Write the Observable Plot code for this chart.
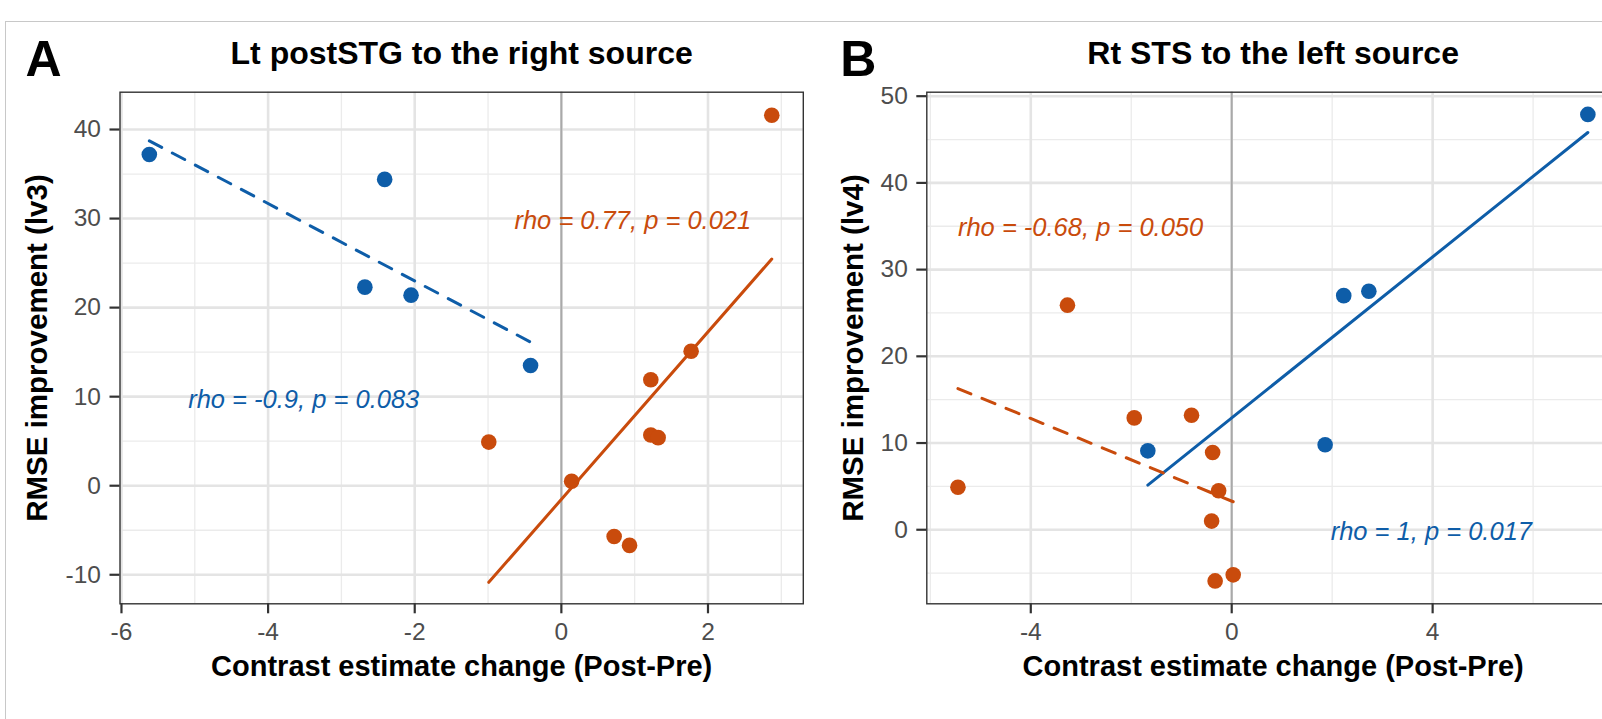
<!DOCTYPE html>
<html><head><meta charset="utf-8">
<script src="https://cdn.jsdelivr.net/npm/d3@7"></script>
<script src="https://cdn.jsdelivr.net/npm/@observablehq/plot@0.6"></script>
<style>
html,body{margin:0;padding:0;background:#fff;overflow:hidden;width:1602px;height:719px}
#wrap{position:relative;width:1602px;height:719px;overflow:hidden;background:#fff}
#pa,#pb{position:absolute;top:0}
#pa{left:0px}
#pb{left:820px}
#border{position:absolute;left:5px;top:21px;width:1700px;height:800px;border:1.5px solid #c8c8c8;pointer-events:none;z-index:5}
</style></head><body>
<div id="wrap"><div id="pa"></div><div id="pb"></div><div id="border"></div></div>
<script>
// ---------- data ----------
const blue = "#0E5DA8", orange = "#C94B0C";

// Panel A: Lt postSTG to the right source
const aTitle = "Lt postSTG to the right source";
const aYLabel = "RMSE improvement (lv3)";
const aBlueX = [-5.62, -2.41, -2.68, -2.05, -0.42];
const aBlueY = [37.2, 34.4, 22.3, 21.4, 13.5];
const aOrangeX = [2.87, 1.77, 1.22, -0.99, 1.22, 1.32, 0.14, 0.72, 0.93];
const aOrangeY = [41.6, 15.1, 11.9, 4.9, 5.7, 5.4, 0.5, -5.7, -6.7];
const aXTicks = [-6, -4, -2, 0, 2];
const aXMinor = [-5, -3, -1, 1, 3];
const aYTicks = [-10, 0, 10, 20, 30, 40];
const aYMinor = [-5, 5, 15, 25, 35];
const aXDomain = [-6.02, 3.30];
const aYDomain = [-13.26, 44.19];
const aLabelText = ["rho = 0.77, p = 0.021", "rho = -0.9, p = 0.083"];
const aLabelX = [-0.64, -5.09];
const aLabelY = [29.8, 9.7];

// Panel B: Rt STS to the left source
const bTitle = "Rt STS to the left source";
const bYLabel = "RMSE improvement (lv4)";
const bBlueX = [7.09, 2.23, 2.73, -1.67, 1.86];
const bBlueY = [47.9, 27.0, 27.5, 9.1, 9.8];
const bOrangeX = [-3.27, -5.45, -1.94, -0.80, -0.38, -0.26, -0.40, -0.33, 0.03];
const bOrangeY = [25.9, 4.9, 12.9, 13.2, 8.9, 4.5, 1.0, -5.9, -5.2];
const bXTicks = [-4, 0, 4];
const bXMinor = [-6, -2, 2, 6];
const bYTicks = [0, 10, 20, 30, 40, 50];
const bYMinor = [-5, 5, 15, 25, 35, 45];
const bXDomain = [-6.07, 7.72];
const bYDomain = [-8.54, 50.46];
const bLabelText = ["rho = -0.68, p = 0.050", "rho = 1, p = 0.017"];
const bLabelX = [-5.45, 1.97];
const bLabelY = [34.8, -0.2];

const xLabel = "Contrast estimate change (Post-Pre)";

// ---------- drawing ----------
const FONT = "'Liberation Sans', Arial, Helvetica, sans-serif";
const rows = (xs, ys) => xs.map((x, i) => ({x, y: ys[i]}));
const hyphenFormat = d => String(d);

function panel(cfg) {
  const blueRows = rows(cfg.blueX, cfg.blueY);
  const orangeRows = rows(cfg.orangeX, cfg.orangeY);
  const labels = cfg.labelText.map((t, i) => ({t, x: cfg.labelX[i], y: cfg.labelY[i], c: cfg.labelColor[i]}));
  return Plot.plot({
    width: 820,
    height: 719,
    marginLeft: cfg.marginLeft,
    marginRight: cfg.marginRight,
    marginTop: 91.7,
    marginBottom: 115.7,
    x: {domain: cfg.xDomain},
    y: {domain: cfg.yDomain},
    style: {fontFamily: FONT, background: "transparent", maxWidth: "none", overflow: "visible"},
    marks: [
      Plot.gridX(cfg.xMinor, {stroke: "#EBEBEB", strokeOpacity: 1, strokeWidth: 1.3}),
      Plot.gridY(cfg.yMinor, {stroke: "#EBEBEB", strokeOpacity: 1, strokeWidth: 1.3}),
      Plot.gridX(cfg.xTicks, {stroke: "#E4E4E4", strokeOpacity: 1, strokeWidth: 2.6}),
      Plot.gridY(cfg.yTicks, {stroke: "#E4E4E4", strokeOpacity: 1, strokeWidth: 2.6}),
      Plot.ruleX([0], {stroke: "#A9A9A9", strokeWidth: 2}),
      Plot.frame({stroke: "#333333", strokeWidth: 1.4}),
      Plot.axisX(cfg.xTicks, {tickSize: 10, tickPadding: 8.5, stroke: "#333333", strokeWidth: 2.2, fill: "#4D4D4D", fontSize: 24.5, fontFamily: FONT, tickFormat: hyphenFormat, label: null}),
      Plot.axisY(cfg.yTicks, {tickSize: 10, tickPadding: 9, stroke: "#333333", strokeWidth: 2.2, fill: "#4D4D4D", fontSize: 24.5, fontFamily: FONT, tickFormat: hyphenFormat, label: null}),
      Plot.dot(blueRows, {x: "x", y: "y", r: 7.8, fill: blue, stroke: null}),
      Plot.dot(orangeRows, {x: "x", y: "y", r: 7.8, fill: orange, stroke: null}),
      Plot.linearRegressionY(blueRows, {x: "x", y: "y", stroke: blue, strokeWidth: 3, ci: 0, strokeDasharray: cfg.blueDash}),
      Plot.linearRegressionY(orangeRows, {x: "x", y: "y", stroke: orange, strokeWidth: 3, ci: 0, strokeDasharray: cfg.orangeDash}),
      Plot.text(labels, {x: "x", y: "y", text: "t", fill: "c", textAnchor: "start", lineAnchor: "middle", fontStyle: "italic", fontSize: 25.5, fontFamily: FONT}),
      Plot.text([cfg.title], {text: d => d, frameAnchor: "top", lineAnchor: "bottom", dy: -28.2, fontSize: 32, fontWeight: "bold", fill: "black", fontFamily: FONT}),
      Plot.text([cfg.letter], {text: d => d, frameAnchor: "top-left", textAnchor: "start", lineAnchor: "bottom", dx: cfg.letterDx, dy: -16.7, fontSize: 50, fontWeight: "bold", fill: "black", fontFamily: FONT}),
      Plot.text([xLabel], {text: d => d, frameAnchor: "bottom", lineAnchor: "bottom", dy: 71.7, fontSize: 29, fontWeight: "bold", fill: "black", fontFamily: FONT}),
      Plot.text([cfg.yLabel], {text: d => d, frameAnchor: "left", rotate: -90, textAnchor: "middle", lineAnchor: "bottom", dx: cfg.yLabelDx, fontSize: 29.5, fontWeight: "bold", fill: "black", fontFamily: FONT})
    ]
  });
}

document.getElementById("pa").append(panel({
  title: aTitle, letter: "A", letterDx: -94.5, yLabel: aYLabel, yLabelDx: -72.8,
  marginLeft: 119.5, marginRight: 17.2,
  blueX: aBlueX, blueY: aBlueY, orangeX: aOrangeX, orangeY: aOrangeY,
  xTicks: aXTicks, xMinor: aXMinor, yTicks: aYTicks, yMinor: aYMinor,
  xDomain: aXDomain, yDomain: aYDomain,
  labelText: aLabelText, labelX: aLabelX, labelY: aLabelY, labelColor: [orange, blue],
  blueDash: "14,12", orangeDash: null
}));

document.getElementById("pb").append(panel({
  title: bTitle, letter: "B", letterDx: -86.5, yLabel: bYLabel, yLabelDx: -63.5,
  marginLeft: 106.3, marginRight: 21,
  blueX: bBlueX, blueY: bBlueY, orangeX: bOrangeX, orangeY: bOrangeY,
  xTicks: bXTicks, xMinor: bXMinor, yTicks: bYTicks, yMinor: bYMinor,
  xDomain: bXDomain, yDomain: bYDomain,
  labelText: bLabelText, labelX: bLabelX, labelY: bLabelY, labelColor: [orange, blue],
  blueDash: null, orangeDash: "14,12"
}));
</script>
</body></html>
